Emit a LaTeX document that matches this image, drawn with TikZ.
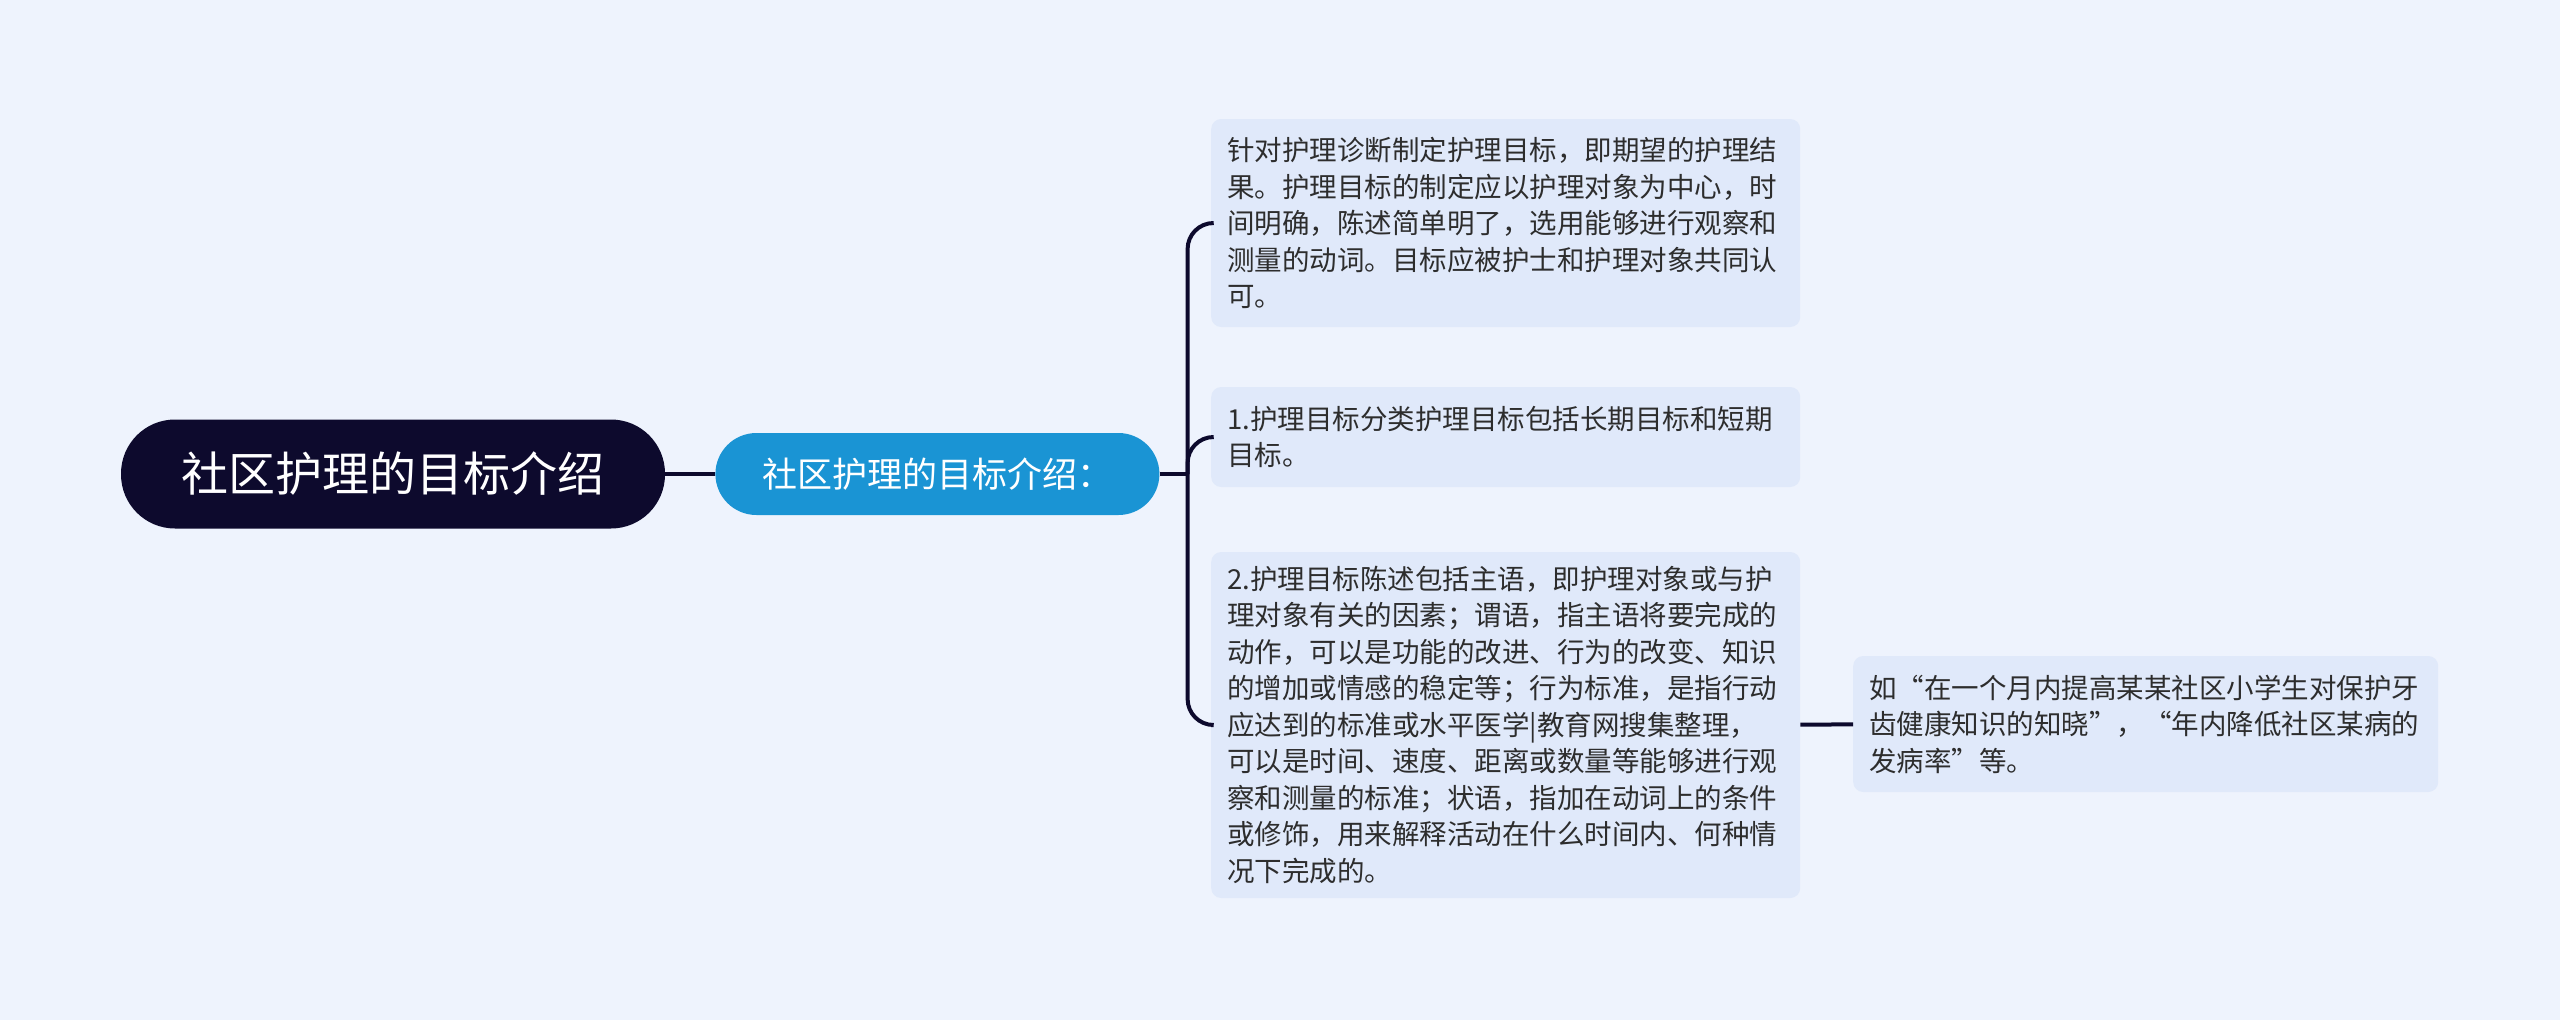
\documentclass[tikz,border=0pt]{standalone}
\usepackage{fontspec}
\setmainfont{Noto Sans CJK SC}
\usepackage{xcolor}
\usetikzlibrary{positioning}
\definecolor{bgcol}{RGB}{238,243,253}
\definecolor{rootcol}{RGB}{13,10,45}
\definecolor{subcol}{RGB}{26,148,212}
\definecolor{leafcol}{RGB}{224,233,250}
\definecolor{txtcol}{RGB}{45,45,45}
\tikzset{%
	central/.style = {rectangle, rounded corners=54pt, fill=rootcol, text=white, minimum width=544pt, minimum height=109pt, font=\fontsize{47}{56}\selectfont}, % Root
	topic/.style   = {rectangle, rounded corners=41pt, fill=subcol, text=white, minimum width=444pt, minimum height=82pt, font=\fontsize{35}{42}\selectfont}, % Sub topic
	leaf/.style    = {rectangle, rounded corners=10pt, fill=leafcol, text=txtcol, align=left, text width=557pt, inner xsep=16pt, anchor=west, font=\fontsize{27.5}{36.5}\selectfont}, % Leaf
	link/.style    = {draw=rootcol, line width=4pt, rounded corners=26pt},
}

\begin{document}
\begin{tikzpicture}[x=1pt,y=-1pt,node distance=50pt]
	\fill[bgcol] (0,0) rectangle (2560,1020);
	\node [central] (root) at (393,474) {社区护理的目标介绍};
	\node [topic] (sub) [right=of root] {社区护理的目标介绍：};
	\coordinate [right=28pt of sub] (fork);
	\node [leaf, minimum height=208pt] (g0) at (1211,223) {针对护理诊断制定护理目标，即期望的护理结\\果。护理目标的制定应以护理对象为中心，时\\间明确，陈述简单明了，选用能够进行观察和\\测量的动词。目标应被护士和护理对象共同认\\可。};
	\node [leaf, minimum height=100pt] (g1) at (1211,437) {1.护理目标分类护理目标包括长期目标和短期\\目标。};
	\node [leaf, minimum height=346pt] (g2) at (1211,725) {2.护理目标陈述包括主语，即护理对象或与护\\理对象有关的因素；谓语，指主语将要完成的\\动作，可以是功能的改进、行为的改变、知识\\的增加或情感的稳定等；行为标准，是指行动\\应达到的标准或水平医学|教育网搜集整理，\\可以是时间、速度、距离或数量等能够进行观\\察和测量的标准；状语，指加在动词上的条件\\或修饰，用来解释活动在什么时间内、何种情\\况下完成的。};
	\node [leaf, minimum height=136pt, text width=553pt] (ex) at (1853,724) {如“在一个月内提高某某社区小学生对保护牙\\齿健康知识的知晓”，“年内降低社区某病的\\发病率”等。};

	\draw[link] (root) -- (sub);
	\draw[link] (sub) -- (fork);
	\draw[link] (fork) |- (g0.west);
	\draw[link] (fork) |- (g1.west);
	\draw[link] (fork) |- (g2.west);
	\draw[link] (g2) -- (ex);
\end{tikzpicture}
\end{document}
